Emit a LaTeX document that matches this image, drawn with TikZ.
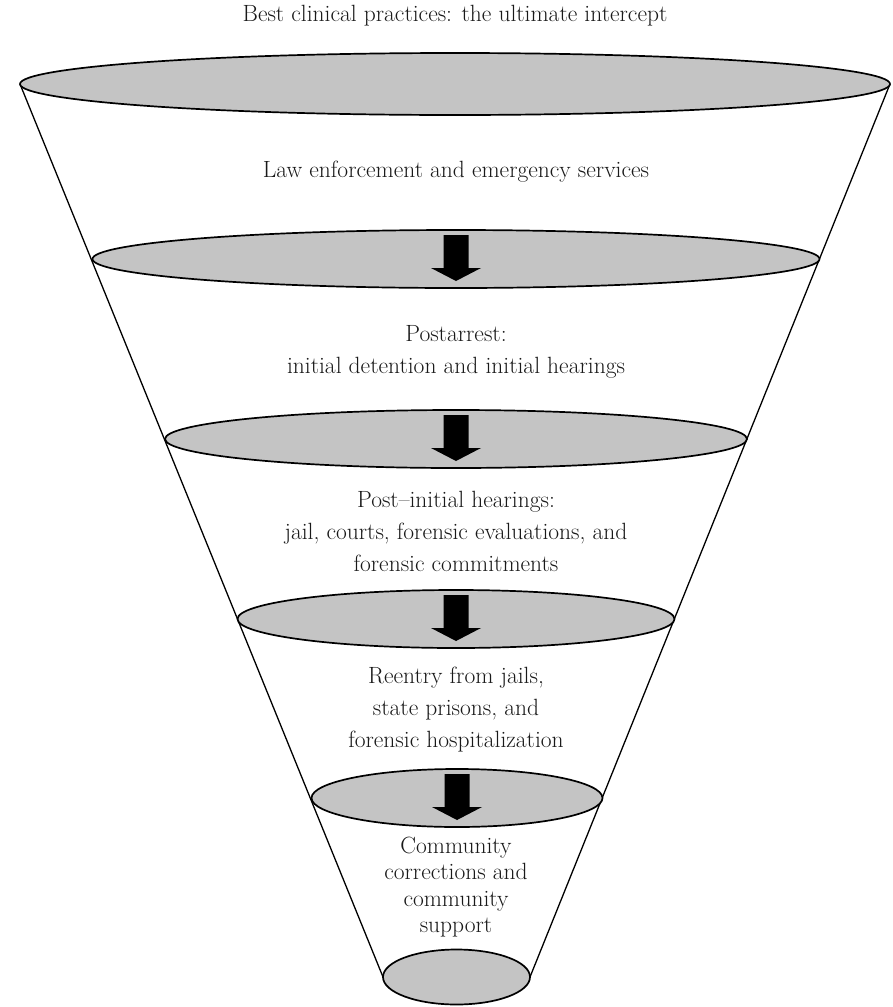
\documentclass[tikz,border=0pt]{standalone}
\usepackage{fontspec}
\usetikzlibrary{shapes.geometric}
\definecolor{funnelgray}{RGB}{196,196,196}
\definecolor{inkcol}{RGB}{25,25,25}
\tikzset{
  disc/.style={ellipse, draw=black, line width=1.7pt, fill=funnelgray, inner sep=0pt, minimum width=#1},
  txt/.style={align=center, text=inkcol, font=\fontsize{23.5}{32}\selectfont, inner sep=0pt},
  tighttxt/.style={txt, font=\fontsize{23.5}{26.5}\selectfont},
  funnelline/.style={line width=1.3pt, draw=black},
  blockarrow/.style={fill=black}
}
\newcommand\dnarrow[1]{%
  \fill[blockarrow] ([shift={(-12.5,-24)}]#1) -- ([shift={(12.5,-24)}]#1) -- ([shift={(12.5,9)}]#1) -- ([shift={(25,9)}]#1) -- ([shift={(0,22)}]#1) -- ([shift={(-25,9)}]#1) -- ([shift={(-12.5,9)}]#1) -- cycle;}
\begin{document}
\begin{tikzpicture}[x=1pt,y=-1pt]
\useasboundingbox (0,0) rectangle (892,1007);
% funnel sides
\coordinate (tl) at (20,84);
\coordinate (tr) at (890,84);
\coordinate (bl) at (383,977);
\coordinate (br) at (530,977);
\draw[funnelline] (tl) -- (bl);
\draw[funnelline] (tr) -- (br);
% discs
\node[disc=870pt, minimum height=62pt] (e1) at (455,84) {};
\node[disc=727pt, minimum height=58pt] (e2) at (456,259) {};
\node[disc=582pt, minimum height=58pt] (e3) at (456,439) {};
\node[disc=437pt, minimum height=58pt] (e4) at (456,619) {};
\node[disc=291pt, minimum height=58pt] (e5) at (457,798) {};
\node[disc=147pt, minimum height=55pt] (e6) at (456.5,977) {};
% arrows
\dnarrow{e2.center}
\dnarrow{e3.center}
\dnarrow{e4.center}
\dnarrow{e5.center}
% texts
\node[txt] (title) at (455,16) {Best clinical practices: the ultimate intercept};
\node[txt] (t1) at (456,172) {Law enforcement and emergency services};
\node[txt] (t2) at (456,352) {Postarrest:\\initial detention and initial hearings};
\node[txt] (t3) at (456,531) {Post–initial hearings:\\jail, courts, forensic evaluations, and\\forensic commitments};
\node[txt] (t4) at (456,710) {Reentry from jails,\\state prisons, and\\forensic hospitalization};
\node[tighttxt] (t5) at (456,887) {Community\\corrections and\\community\\support};
\end{tikzpicture}
\end{document}
